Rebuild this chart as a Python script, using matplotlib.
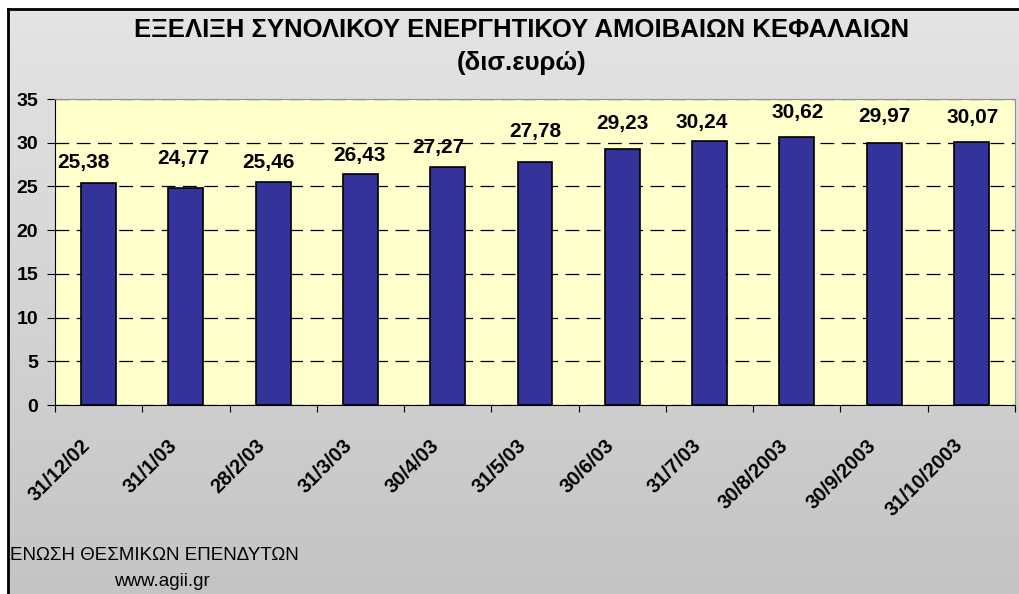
import numpy as np
import matplotlib.pyplot as plt
from matplotlib.colors import LinearSegmentedColormap

# data
dates = ['31/12/02', '31/1/03', '28/2/03', '31/3/03', '30/4/03', '31/5/03',
         '30/6/03', '31/7/03', '30/8/2003', '30/9/2003', '31/10/2003']
assets = [25.38, 24.77, 25.46, 26.43, 27.27, 27.78, 29.23, 30.24, 30.62, 29.97, 30.07]
value_labels = ['25,38', '24,77', '25,46', '26,43', '27,27', '27,78',
                '29,23', '30,24', '30,62', '29,97', '30,07']
yticks = [0, 5, 10, 15, 20, 25, 30, 35]

# label placement (pixels) as in the original chart
label_dx = [-15, -3, -5, -1, -9, 0, 0, -8, 1, 0, 1]
label_dy = [21, 30, 20, 18, 19, 31, 26, 18, 25, 26, 25]

plt.rcParams['font.family'] = ['Liberation Sans', 'DejaVu Sans']

W, H = 1020, 594
fig = plt.figure(figsize=(W / 100, H / 100), dpi=100)
fig.patch.set_facecolor('white')

# chart background: grey gradient with black frame
bg = fig.add_axes([8 / W, 0, 1 - 8 / W, 1 - 9 / H])
grad = np.linspace(0, 1, 256).reshape(-1, 1)
cmap = LinearSegmentedColormap.from_list('g', ['#e4e4e4', '#c4c4c4'])
bg.imshow(grad, aspect='auto', cmap=cmap, extent=[0, 1, 0, 1], origin='upper')
bg.set_xlim(0, 1)
bg.set_ylim(0, 1)
bg.set_xticks([])
bg.set_yticks([])
for s in bg.spines.values():
    s.set_linewidth(2)
    s.set_color('black')
bg.spines['right'].set_visible(False)
bg.spines['bottom'].set_visible(False)

# plot area
left, right, top, bottom = 55, 1015, 99, 405
ax = fig.add_axes([left / W, 1 - bottom / H, (right - left) / W, (bottom - top) / H])
ax.set_facecolor('#ffffcc')

x = np.arange(len(dates))
ax.bar(x, assets, width=0.4, color='#333399', edgecolor='black', linewidth=1.2, zorder=3)

ax.set_xlim(-0.5, len(dates) - 0.5)
ax.set_ylim(0, 35)
ax.set_yticks(yticks)
ax.set_yticklabels([str(t) for t in yticks], fontsize=14, fontweight='bold')
ax.yaxis.grid(True, color='black', linestyle=(0, (11, 6)), linewidth=0.9, zorder=1)

ax.set_xticks(np.arange(len(dates) + 1) - 0.5)
ax.set_xticklabels([])
ax.tick_params(axis='x', length=5, color='black', direction='out')
ax.tick_params(axis='y', length=6, color='black', direction='out', pad=6)
for i, lab in enumerate(dates):
    ax.annotate(lab, xy=(i, 0), xycoords='data', xytext=(-13, -22), textcoords='offset points',
                rotation=45, ha='right', va='top', fontsize=14.5, fontweight='bold',
                rotation_mode='anchor')

px = 0.72  # points per pixel at 100 dpi
for i, (v, lab) in enumerate(zip(assets, value_labels)):
    ax.annotate(lab, xy=(i, v), xytext=(label_dx[i] * px, label_dy[i] * px),
                textcoords='offset points', ha='center', va='center',
                fontsize=15, fontweight='bold')

for s in ['top', 'right']:
    ax.spines[s].set_color('#909090')
ax.spines['left'].set_color('black')
ax.spines['bottom'].set_color('black')

fig.text(522 / W, 1 - 30 / H, 'ΕΞΕΛΙΞΗ ΣΥΝΟΛΙΚΟΥ ΕΝΕΡΓΗΤΙΚΟΥ ΑΜΟΙΒΑΙΩΝ ΚΕΦΑΛΑΙΩΝ',
         ha='center', va='center', fontsize=18.5, fontweight='bold')
fig.text(522 / W, 1 - 63 / H, '(δισ.ευρώ)', ha='center', va='center', fontsize=18.5, fontweight='bold')

fig.text(10 / W, 1 - 555 / H, 'ΕΝΩΣΗ ΘΕΣΜΙΚΩΝ ΕΠΕΝΔΥΤΩΝ', ha='left', va='center', fontsize=13.5)
fig.text(114 / W, 1 - 581 / H, 'www.agii.gr', ha='left', va='center', fontsize=13.5)

fig.savefig('out.png', dpi=100)
